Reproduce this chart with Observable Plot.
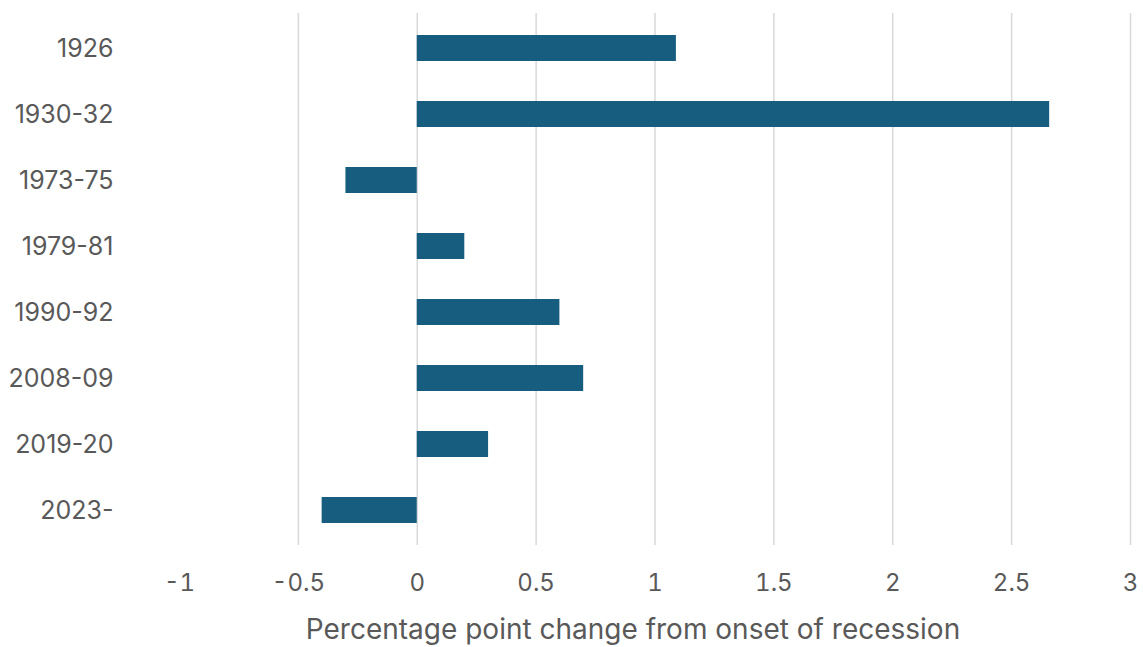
<!DOCTYPE html>
<html>
<head>
<meta charset="utf-8">
<script src="https://cdn.jsdelivr.net/npm/d3@7"></script>
<script src="https://cdn.jsdelivr.net/npm/@observablehq/plot@0.6"></script>
<style>
  html, body { margin: 0; padding: 0; background: #fff; }
  #chart svg { display: block; }
</style>
</head>
<body>
<div id="chart"></div>
<script>
const periods = ["1926", "1930-32", "1973-75", "1979-81", "1990-92", "2008-09", "2019-20", "2023-"];
const changes = [1.09, 2.66, -0.3, 0.2, 0.6, 0.7, 0.3, -0.4];
const xTicks = [-1, -0.5, 0, 0.5, 1, 1.5, 2, 2.5, 3];
const gridTicks = [-0.5, 0, 0.5, 1, 1.5, 2, 2.5, 3];
const xLabel = "Percentage point change from onset of recession";

const data = periods.map((p, i) => ({period: p, value: changes[i]}));

const chart = Plot.plot({
  width: 1143,
  height: 647,
  marginTop: 13,
  marginBottom: 102,
  marginLeft: 179,
  marginRight: 13,
  style: {fontFamily: "Inter, sans-serif", color: "#595959", background: "#fff"},
  x: {domain: [-1, 3], label: null},
  y: {domain: periods, paddingInner: 0.61, paddingOuter: 0.305, label: null},
  marks: [
    Plot.gridX(gridTicks, {stroke: "#d9d9d9", strokeOpacity: 1, strokeWidth: 1.5}),
    Plot.barX(data, {x: "value", y: "period", fill: "#175d7f"}),
    Plot.axisY({tickSize: 0, tickPadding: 66, fontSize: 25, fill: "#595959"}),
    Plot.axisX({ticks: xTicks, tickSize: 0, tickPadding: 28, fontSize: 24, fill: "#595959",
      tickFormat: d => String(d), label: null}),
    Plot.text([xLabel], {frameAnchor: "bottom", dy: 93, dx: -22, fontSize: 28, fill: "#595959", text: d => d})
  ]
});
document.getElementById("chart").appendChild(chart);
</script>
</body>
</html>
